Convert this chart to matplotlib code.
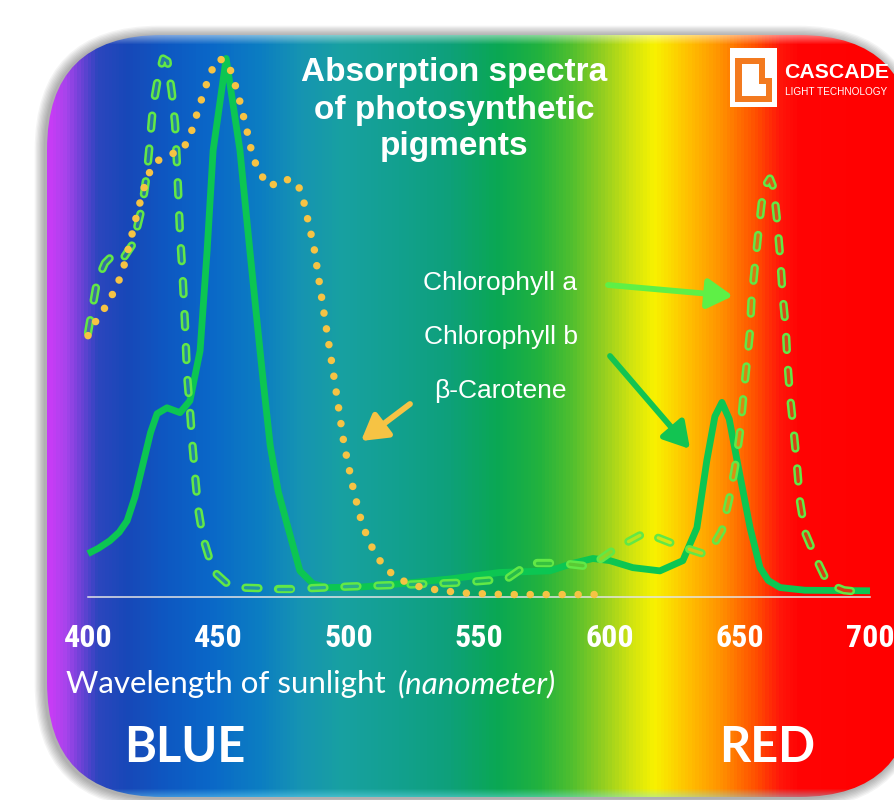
import numpy as np
import matplotlib
matplotlib.use('Agg')
import matplotlib.pyplot as plt
from matplotlib import font_manager
from matplotlib.colors import LinearSegmentedColormap, to_rgb
from matplotlib.patches import FancyBboxPatch, Rectangle, ArrowStyle

# absorption spectra, wavelength in nm vs relative absorbance (%)
chl_a_nm = [400, 403.5, 406.5, 409.6, 413, 417.3, 420.7, 422.6, 423.8, 424.9,
            426.9, 428.8, 430.5, 432.2, 433.4, 434.3, 435.3, 436.4, 437.2, 438,
            439.1, 440, 441, 442.2, 444.1, 448, 453, 458.3, 471, 481.3,
            500.5, 519.7, 542.7, 560.7, 569.6, 580.3, 592.6, 602.2, 613.7, 625.2,
            635.9, 639.8, 643.2, 646.1, 648.2, 650.1, 651.3, 652.6, 653.9, 654.5,
            655.8, 657.1, 658.4, 660, 661.6, 663, 664.2, 665.5, 666.5, 667.7,
            668.3, 669.3, 670.6, 672, 673.1, 675.1, 679.3, 683.9, 690, 696]
chl_a_abs = [49, 58.7, 62, 63.5, 62.5, 65.6, 72.3, 78.6, 84.8, 90.9,
             96.5, 100, 99.5, 93.5, 87.9, 78.5, 67.5, 58.7, 50.7, 41.2,
             34.8, 28.6, 22.9, 16.5, 11, 4.8, 2.6, 1.7, 1.5, 1.5,
             1.9, 2.2, 2.6, 3.3, 6.3, 6.3, 5.6, 8.9, 11.9, 9.7,
             8.0, 9.5, 12.3, 18.4, 24, 30.5, 36.6, 42.8, 48.9, 54.8,
             61.2, 67.3, 73, 76.5, 77.7, 76, 70.6, 63.4, 55.9, 49.8,
             43.7, 37.4, 31.4, 24.3, 17.8, 11.9, 7.1, 2.4, 1.2, 0.9]

chl_b_nm = [400, 404, 408.4, 412, 415, 418, 421.1, 424, 426.5, 430.3,
            435.3, 439.1, 443, 445.7, 448, 453, 458.3, 462.1, 466, 467.2,
            469.9, 473, 476.3, 481.3, 486.3, 491.7, 505, 519.7, 538.9, 558,
            577.2, 586, 593.7, 600.2, 609, 619.4, 628.2, 633.6, 637.4, 640.5,
            643.2, 646, 649, 654, 657.8, 661, 665.5, 675, 700]
chl_b_abs = [8, 9, 10.4, 12, 14.1, 18.5, 24.7, 30.5, 34, 35.1,
             34.2, 36.4, 45.7, 64.3, 82.9, 100, 82.9, 64.3, 45.7, 40.1,
             28.1, 19.5, 13.6, 4.8, 2.4, 1.7, 1.8, 2.4, 3.3, 4.5,
             4.8, 6.2, 7.1, 6.7, 5.4, 4.8, 6.7, 12.8, 25.3, 33.5,
             36.1, 33, 25.3, 12.8, 5.4, 3, 1.7, 1.2, 1.1]

carotene_nm = [400, 403.8, 407.7, 410.4, 413, 416.1, 419.2, 422.6, 425.7, 430.3,
               436.1, 439.1, 443, 446.8, 450, 453.7, 457.5, 460.6, 463.3, 466,
               469.8, 474.8, 480.2, 482.5, 486.7, 490.5, 494.4, 498.2, 502, 505.1,
               507.4, 510.1, 513.9, 518.5, 524.3, 530.4, 543, 560, 600]
carotene_abs = [48.5, 51.9, 54.5, 57.2, 60, 65.8, 71.9, 77.9, 80.7, 82,
                82.9, 85.5, 91.6, 97.2, 100, 99.3, 93.5, 87.4, 81.6, 78.6,
                76.2, 77.7, 77, 74, 64.9, 52.8, 40.7, 28.4, 19.5, 13.6,
                10.8, 8, 5.4, 3.5, 2.2, 1.5, 0.7, 0.4, 0.4]

tick_nm = [400, 450, 500, 550, 600, 650, 700]
pigment_labels = ['Chlorophyll a', 'Chlorophyll b', 'β-Carotene']
title = 'Absorption spectra\nof photosynthetic\npigments'
xlabel = 'Wavelength of sunlight'
xlabel_unit = '(nanometer)'
band_labels = ['BLUE', 'RED']

W, H = 895, 800


def pick_font(*names):
    for name in names:
        try:
            font_manager.findfont(font_manager.FontProperties(family=name),
                                  fallback_to_default=False)
            return name
        except ValueError:
            pass
    return 'DejaVu Sans'


def narrow_bold():
    # a condensed bold face for the tick numbers, if one is installed
    for fam in ['Liberation Sans Narrow', 'Roboto Condensed', 'Open Sans Condensed',
                'Noto Sans', 'Open Sans', 'Roboto']:
        prop = font_manager.FontProperties(family=fam, weight='bold', stretch='condensed')
        try:
            path = font_manager.findfont(prop, fallback_to_default=False)
        except ValueError:
            continue
        name = path.lower()
        if ('narrow' in name or 'condensed' in name) and 'extra' not in name \
                and 'semi' not in name:
            return font_manager.FontProperties(fname=path, size=23), True
    return font_manager.FontProperties(family=ARIAL, weight='bold', size=21), False


ARIAL = pick_font('Liberation Sans', 'Arial', 'DejaVu Sans')
HUMAN = pick_font('Lato', 'Open Sans', 'DejaVu Sans')
tick_font, _ = narrow_bold()

# rainbow backdrop, stops given in pixel columns
stops = [(0, '#c63cf5'), (50, '#c63cf5'), (64, '#a844ec'), (80, '#6a42d6'),
         (96, '#2c46be'), (125, '#1848b8'), (165, '#0e58c2'), (210, '#0a68c8'),
         (260, '#0c7ec2'), (300, '#1694b2'), (340, '#18a0a2'), (400, '#12a08e'),
         (450, '#0ea07a'), (500, '#0aa852'), (540, '#22b23e'), (570, '#4cbe30'),
         (600, '#8ccc22'), (630, '#cce212'), (655, '#f8f200'), (690, '#ffc000'),
         (723, '#ff9000'), (757, '#ff5000'), (782, '#ff160a'), (800, '#ff0404'),
         (895, '#ff0000')]
spectrum = LinearSegmentedColormap.from_list('spectrum', [(x / W, c) for x, c in stops])

fig = plt.figure(figsize=(W / 100, H / 100), dpi=100)
fig.patch.set_facecolor('white')

bg = fig.add_axes([0, 0, 1, 1])
bg.set_xlim(0, W)
bg.set_ylim(H, 0)
bg.axis('off')

# soft drop shadow behind the card
for k in range(1, 9):
    p = k * 1.3
    bg.add_patch(FancyBboxPatch((47 - p - 2, 35 - p + 1), 867 + 2 * p, 762 + 2 * p,
                                boxstyle=f'round,pad=0,rounding_size={115 + p}',
                                fc='black', ec='none', alpha=0.045, zorder=0))

card = FancyBboxPatch((47, 35), 867, 762, boxstyle='round,pad=0,rounding_size=115',
                      fc='none', ec='none', zorder=1)
bg.add_patch(card)

img = np.empty((H, W, 3))
img[:] = spectrum(np.linspace(0, 1, W))[:, :3][None, :, :]
rows = np.arange(H)[:, None, None]
shine = np.clip(1 - (rows - 35) / 9.0, 0, 1) * 0.45
img = img + (1 - img) * shine
glow = np.clip(1 - (797 - rows) / 9.0, 0, 1) * 0.45
img = img * (1 - glow) + np.array(to_rgb('#7fe6ff')) * glow
im = bg.imshow(img, extent=(0, W, H, 0), aspect='auto', interpolation='bilinear', zorder=1)
im.set_clip_path(card)

# data axes laid over the card
px_nm = (870 - 88) / 300
px_abs = (596.7 - 58.5) / 100
ax = fig.add_axes([0, 0, 1, 1])
ax.set_xlim(400 - 88 / px_nm, 400 + (W - 88) / px_nm)
ax.set_ylim(-(H - 596.7) / px_abs, 596.7 / px_abs)
ax.axis('off')
ax.patch.set_alpha(0)

ax.plot([400, 700], [0, 0], color='#e4e4e4', lw=1.1, zorder=2)

ax.plot(chl_b_nm, chl_b_abs, color='#0cc652', lw=4.9, solid_joinstyle='round',
        solid_capstyle='butt', zorder=3)


def hollow_dashed(xs, ys, dash, gap, edge, w_out, w_in, z):
    pts = ax.transData.transform(np.column_stack([xs, ys]))
    dist = np.concatenate([[0], np.cumsum(np.hypot(*np.diff(pts, axis=0).T))])
    back = ax.transData.inverted()
    edge_rgb = np.array(to_rgb(edge))
    start = 0.0
    while start < dist[-1]:
        stop = min(start + dash, dist[-1])
        d = np.concatenate([[start], dist[(dist > start) & (dist < stop)], [stop]])
        piece = np.column_stack([np.interp(d, dist, pts[:, 0]), np.interp(d, dist, pts[:, 1])])
        nm, val = back.transform(piece).T
        fill = 0.75 * np.array(spectrum(piece[:, 0].mean() / W)[:3]) + 0.25 * edge_rgb
        ax.plot(nm, val, color=edge, lw=w_out, solid_capstyle='round',
                solid_joinstyle='round', zorder=z)
        ax.plot(nm, val, color=fill, lw=w_in, solid_capstyle='round',
                solid_joinstyle='round', zorder=z)
        start += dash + gap


hollow_dashed(chl_a_nm, chl_a_abs, 13, 20, '#62e846', 6.0, 2.4, 4)

ax.plot(carotene_nm, carotene_abs, color='#f6c344', lw=5.4, linestyle=(0, (0.01, 2.12)),
        dash_capstyle='round', zorder=5)

for t in tick_nm:
    ax.text(t, (596.7 - 638) / px_abs, str(t), color='white', fontproperties=tick_font,
            ha='center', va='center', zorder=6)

# text and callouts in pixel space
bg.text(454, 110, title, color='white', fontsize=24, fontweight='bold', family=ARIAL,
        ha='center', va='center', multialignment='center', linespacing=1.25, zorder=6)

label_pos = [(500, 283), (501, 337), (500, 391)]
for (x, y), lab in zip(label_pos, pigment_labels):
    bg.text(x, y, lab, color='white', fontsize=19, family=ARIAL,
            ha='center', va='center', zorder=6)

head = ArrowStyle('-|>', head_length=0.85, head_width=0.5)
arrows = [((608, 285), (733, 296), '#5ef046'),
          ((610, 356), (690, 449), '#12c452'),
          ((410, 404), (361, 441), '#f6c344')]
for start, tip, col in arrows:
    bg.annotate('', xy=tip, xytext=start, zorder=6,
                arrowprops=dict(arrowstyle=head, color=col, lw=4.2, mutation_scale=18,
                                shrinkA=0, shrinkB=0))

bg.text(66, 684, xlabel, color='white', fontsize=22.5, family=HUMAN,
        ha='left', va='center', zorder=6)
bg.text(398, 684, xlabel_unit, color='white', fontsize=22.5, family=HUMAN, style='italic',
        ha='left', va='center', zorder=6)

bg.text(185, 748, band_labels[0], color='white', fontsize=35, fontweight='bold',
        family=HUMAN, ha='center', va='center', zorder=6)
bg.text(767, 748, band_labels[1], color='white', fontsize=35, fontweight='bold',
        family=HUMAN, ha='center', va='center', zorder=6)

# company mark, top right
bg.add_patch(Rectangle((730, 48), 47, 59, fc='white', ec='none', zorder=6))
orange = '#f37a1f'
for x, y, w, h in [(735, 58, 7, 44), (735, 58, 30, 6), (759, 58, 6, 24),
                   (759, 78, 13, 6), (766, 78, 6, 24), (735, 96, 37, 6)]:
    bg.add_patch(Rectangle((x, y), w, h, fc=orange, ec='none', zorder=7))
bg.text(784, 73, 'CASCADE', color='white', fontsize=15.3, fontweight='bold', family=ARIAL,
        ha='left', va='center', zorder=6)
bg.text(785, 92, 'LIGHT TECHNOLOGY', color='white', fontsize=7.2, family=ARIAL,
        ha='left', va='center', zorder=6)

fig.savefig('out.png', dpi=100)
